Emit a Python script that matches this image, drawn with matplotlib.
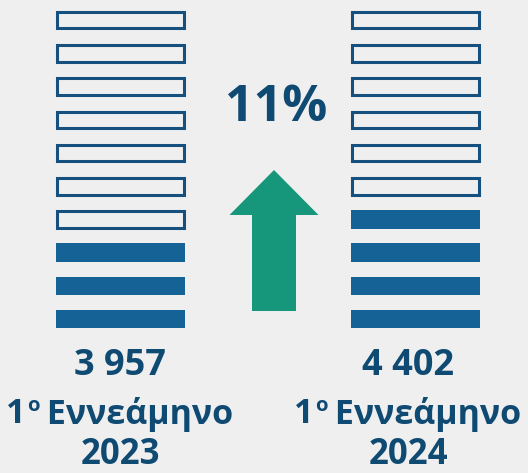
import matplotlib
matplotlib.use("Agg")
import matplotlib.pyplot as plt
from matplotlib.patches import FancyArrow

# ---- data ----
periods = ["1ο Εννεάμηνο 2023", "1ο Εννεάμηνο 2024"]
years = ["2023", "2024"]
values = [3957, 4402]
value_labels = ["3 957", "4 402"]
filled_counts = [3, 4]
total_icons = 10
change_label = "11%"

# ---- style ----
W, H = 528, 473
bg = "#EFEFEF"
navy = "#0F4A73"
fill_col = "#156296"
edge_col = "#16507E"
green = "#16967A"
fam = ["Open Sans", "DejaVu Sans"]

fig = plt.figure(figsize=(W / 100, H / 100), dpi=100, facecolor=bg)
ax = fig.add_axes([0, 0, 1, 1])
ax.set_xlim(0, W)
ax.set_ylim(H, 0)
ax.axis("off")
ax.set_facecolor(bg)

col_left = [56, 351]
col_width = 129
row_top0 = 11
row_step = 33.2
row_h = 18.5
centers = [120, 408]

for c in range(2):
    for i in range(total_icons):
        top = row_top0 + i * row_step
        filled = i >= total_icons - filled_counts[c]
        if filled:
            ax.bar(col_left[c], row_h, width=col_width, bottom=top, align="edge",
                   color=fill_col, edgecolor="none")
        else:
            ax.bar(col_left[c] + 1, row_h - 2, width=col_width - 2, bottom=top + 1,
                   align="edge", color="none", edgecolor=edge_col, linewidth=2.2)

# arrow
arrow = FancyArrow(274, 311, 0, -141, width=44, head_width=89, head_length=45,
                   length_includes_head=True, color=green, linewidth=0)
ax.add_patch(arrow)

ax.text(276, 108, change_label, ha="center", va="center", fontsize=36,
        fontweight="bold", color=navy, family=fam)

fig.canvas.draw()
renderer = fig.canvas.get_renderer()

for c in range(2):
    ax.text(centers[c], 366, value_labels[c], ha="center", va="center", fontsize=26,
            fontweight="bold", color=navy, family=fam)
    # "1ο Εννεάμηνο" with superscript ο
    fs = 24.5
    t1 = ax.text(0, 414, "1", ha="left", va="center", fontsize=fs,
                 fontweight="bold", color=navy, family=fam)
    t2 = ax.text(0, 406, "ο", ha="left", va="center", fontsize=fs * 0.6,
                 fontweight="bold", color=navy, family=fam)
    t3 = ax.text(0, 414, " Εννεάμηνο", ha="left", va="center", fontsize=fs,
                 fontweight="bold", color=navy, family=fam)
    w1 = t1.get_window_extent(renderer).width
    w2 = t2.get_window_extent(renderer).width
    w3 = t3.get_window_extent(renderer).width
    start = centers[c] - (w1 + w2 + w3) / 2
    t1.set_x(start)
    t2.set_x(start + w1 + 1)
    t3.set_x(start + w1 + w2)
    ax.text(centers[c], 455, years[c], ha="center", va="center", fontsize=25,
            fontweight="bold", color=navy, family=fam)

fig.savefig("out.png", dpi=100, facecolor=bg)
